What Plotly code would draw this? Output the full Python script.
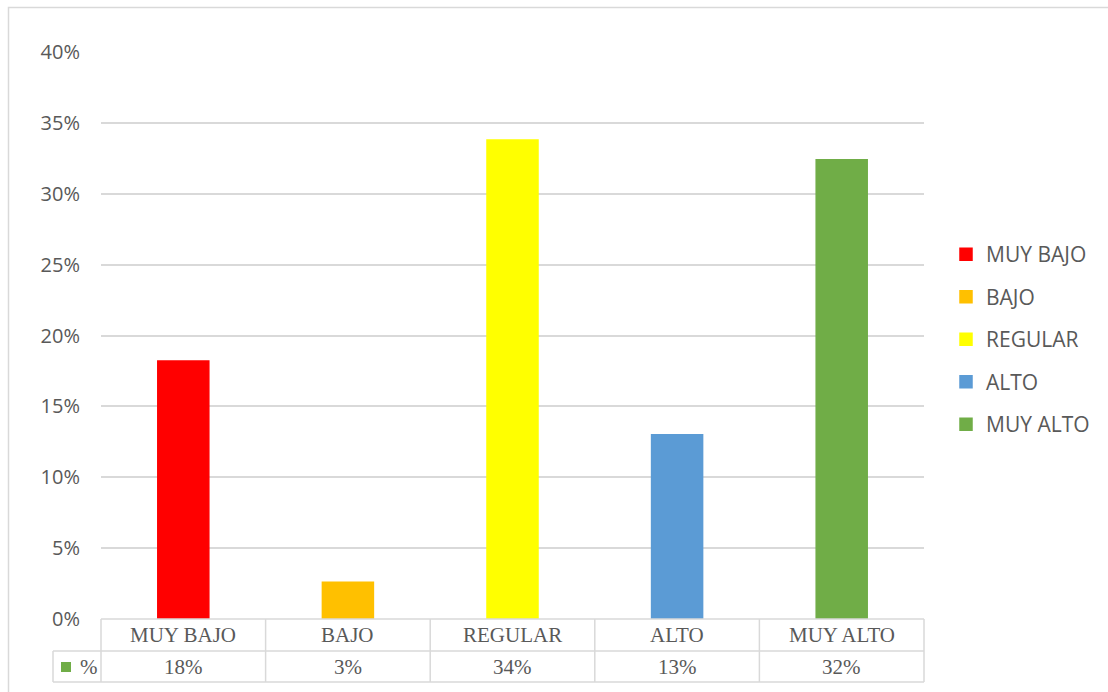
import plotly.graph_objects as go

categories = ["MUY BAJO", "BAJO", "REGULAR", "ALTO", "MUY ALTO"]
values = [0.182, 0.026, 0.338, 0.130, 0.324]
colors = ["#FF0000", "#FFC000", "#FFFF00", "#5B9BD5", "#70AD47"]
series_name = "%"
tick_vals = [0, 0.05, 0.10, 0.15, 0.20, 0.25, 0.30, 0.35, 0.40]

W, H = 1108, 692
L, R, T, B = 101, 184, 52, 73
pw, ph = W - L - R, H - T - B

def px_x(p):
    return (p - L) / pw

def px_y(p):
    return (H - B - p) / ph

GRID = "#d9d9d9"
TXT = "#595959"

fig = go.Figure()
for i, (c, v, col) in enumerate(zip(categories, values, colors)):
    fig.add_trace(go.Bar(
        x=[c], y=[v], name=c, width=0.31,
        marker=dict(color=col, line=dict(color=col, width=1.5)),
        legendgroup=c, showlegend=True,
    ))

shapes = []
n = len(categories)
row1 = px_y(651)
row2 = px_y(682)
left_col = px_x(53)
shapes.append(dict(type="line", xref="paper", yref="paper", x0=0, x1=1, y0=0, y1=0,
                   line=dict(color=GRID, width=1.5)))
for yy in (row1, row2):
    shapes.append(dict(type="line", xref="paper", yref="paper", x0=left_col, x1=1,
                       y0=yy, y1=yy, line=dict(color=GRID, width=1.5)))
for k in range(n + 1):
    shapes.append(dict(type="line", xref="paper", yref="paper", x0=k / n, x1=k / n,
                       y0=0, y1=row2, line=dict(color=GRID, width=1.5)))
shapes.append(dict(type="line", xref="paper", yref="paper", x0=left_col, x1=left_col,
                   y0=row1, y1=row2, line=dict(color=GRID, width=1.5)))
shapes.append(dict(type="rect", xref="paper", yref="paper", x0=px_x(61), x1=px_x(71),
                   y0=px_y(672), y1=px_y(662), fillcolor=colors[-1], line=dict(width=0)))
shapes.append(dict(type="rect", xref="paper", yref="paper", x0=px_x(8.5), x1=px_x(1130),
                   y0=px_y(710), y1=px_y(7.5), line=dict(color=GRID, width=1.5)))

annotations = []
serif = dict(family="Liberation Serif, Times New Roman, serif", size=21, color=TXT)
for c, v in zip(categories, values):
    annotations.append(dict(x=c, xref="x", y=px_y(635), yref="paper", text=c,
                            showarrow=False, font=serif, xanchor="center", yanchor="middle"))
    annotations.append(dict(x=c, xref="x", y=px_y(667), yref="paper",
                            text=f"{round(v * 100)}%", showarrow=False, font=serif,
                            xanchor="center", yanchor="middle"))
annotations.append(dict(x=px_x(78), xref="paper", y=px_y(667), yref="paper", text=series_name,
                        showarrow=False, font=serif, xanchor="left", yanchor="middle"))

fig.update_layout(
    width=W, height=H,
    margin=dict(l=L, r=R, t=T, b=B, pad=0),
    paper_bgcolor="white", plot_bgcolor="white",
    barmode="overlay",
    font=dict(family="Open Sans, sans-serif", size=20, color=TXT),
    xaxis=dict(type="category", categoryorder="array", categoryarray=categories,
               range=[-0.5, n - 0.5], showticklabels=False, showgrid=False,
               zeroline=False, showline=False, ticks=""),
    yaxis=dict(range=[0, 0.40], tickvals=tick_vals, tickformat=".0%",
               showgrid=True, gridcolor=GRID, gridwidth=1.5, zeroline=False,
               showline=False, ticks="", ticklabelstandoff=20,
               tickfont=dict(family="Open Sans, sans-serif", size=20, color=TXT)),
    legend=dict(x=px_x(946), xanchor="left", y=px_y(339.5), yanchor="middle",
                font=dict(family="Open Sans, sans-serif", size=21, color=TXT),
                tracegroupgap=12.2, bgcolor="rgba(0,0,0,0)"),
    shapes=shapes,
    annotations=annotations,
    showlegend=True,
)

fig.write_html("out.html")
